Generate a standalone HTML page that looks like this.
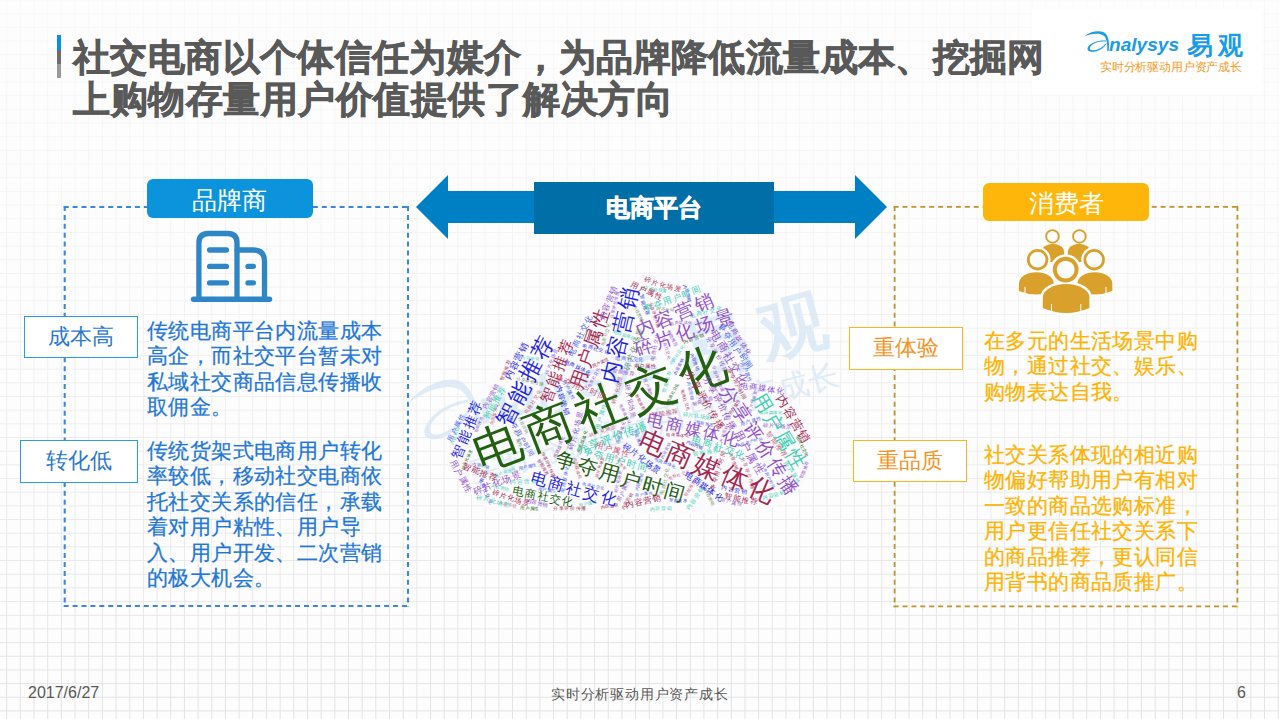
<!DOCTYPE html>
<html><head><meta charset="utf-8">
<style>
html,body{margin:0;padding:0;}
body{width:1279px;height:719px;overflow:hidden;position:relative;font-family:"Liberation Sans",sans-serif;background:#fdfdfd;}
.grid{position:absolute;left:0;top:0;width:1279px;height:719px;
background-image:linear-gradient(to right,#e0e0e0 1.2px,transparent 1.2px),linear-gradient(to bottom,#e0e0e0 1.2px,transparent 1.2px);
background-size:13.68px 13.68px;background-position:6.2px 13.2px;}
.fade{position:absolute;left:0;top:0;width:1279px;height:719px;background:linear-gradient(to bottom,rgba(253,253,253,0.85) 0%,rgba(253,253,253,0.68) 30%,rgba(253,253,253,0.5) 55%,rgba(253,253,253,0.1) 100%);}
.abs{position:absolute;white-space:nowrap;}
.title{font-weight:bold;color:#595959;-webkit-text-stroke:0.7px #595959;font-size:37px;letter-spacing:0.5px;line-height:40.7px;}
.bar{position:absolute;left:57px;width:4px;}
.hdr{position:absolute;border-radius:6px;color:#fff;font-size:25px;text-align:center;}
.lab{position:absolute;box-sizing:border-box;border:1.6px solid;background:#fff;font-size:22px;text-align:center;}
.p{position:absolute;font-size:21px;line-height:25.4px;letter-spacing:0.4px;-webkit-text-stroke:0.25px currentColor;white-space:nowrap;}
.foot{position:absolute;font-size:14px;color:#595959;top:684px;}
</style></head><body>
<div class="grid"></div>
<div class="fade"></div>

<div style="position:absolute;left:1032px;top:9px;width:230px;height:85px;background:#fff;"></div>
<!-- title accent bar -->
<div class="bar" style="top:35px;height:15px;background:#0b8fe0"></div>
<div class="bar" style="top:50px;height:14px;background:#6d6d6d"></div>
<div class="bar" style="top:64px;height:14px;background:#9a9a9a"></div>

<div class="abs title" style="left:73px;top:37.5px;letter-spacing:0.38px;">社交电商以个体信任为媒介，为品牌降低流量成本、挖掘网</div>
<div class="abs title" style="left:73px;top:79.5px;">上购物存量用户价值提供了解决方向</div>

<!-- logo -->
<svg style="position:absolute;left:0;top:0" width="1279" height="719">
<g fill="#1a9be6">
<path d="M1084.3 36.4 C 1090 31.5, 1101 29.5, 1105.5 33.5 C 1109 37, 1109.5 44, 1108.6 51 L 1107.2 51 C 1107.6 45, 1107 38.5, 1104 35.8 C 1099.5 32.5, 1091 33.5, 1084.3 36.4 Z"/>
<path d="M1106.2 40.6 C 1100 39.6, 1091 42, 1088 47 C 1086.3 50.2, 1089 52.3, 1094 51.8 C 1099 51.2, 1104.5 47.5, 1106.8 43.2 L 1105.6 43.6 C 1103 47, 1098.5 49.8, 1094.5 50.2 C 1090.5 50.6, 1089 49.2, 1090 47.2 C 1092.5 42.8, 1100 40.9, 1106.2 41.6 Z"/>
<text x="1109" y="51" font-family="Liberation Sans, sans-serif" font-style="italic" font-weight="bold" font-size="17.5" textLength="70" lengthAdjust="spacingAndGlyphs">nalysys</text>
<text x="1187" y="53.5" font-family="Liberation Sans, sans-serif" font-weight="bold" font-size="24.5" textLength="26" lengthAdjust="spacingAndGlyphs">易</text><text x="1217.5" y="53.5" font-family="Liberation Sans, sans-serif" font-weight="bold" font-size="24.5" textLength="25" lengthAdjust="spacingAndGlyphs">观</text>
</g>
<text x="1100" y="70.5" font-family="Liberation Serif, serif" font-size="11.5" fill="#f39a1e" textLength="142" lengthAdjust="spacing">实时分析驱动用户资产成长</text>
</svg>

<!-- building icon -->
<svg style="position:absolute;left:0;top:0" width="1279" height="719">
<g fill="none" stroke="#2e86c6" stroke-width="5.3" stroke-linecap="round" stroke-linejoin="round">
<path d="M198.9 299 L198.9 243 Q198.9 233.5 208.5 233.5 L227.5 233.5 Q237 233.5 237 243 L237 299"/>
<path d="M237 250 L253 250 Q264.5 250 264.5 261.5 L264.5 299"/>
<line x1="193.6" y1="299.3" x2="269.5" y2="299.3" stroke-width="5.5"/>
<line x1="209.6" y1="250" x2="226.4" y2="250"/>
<line x1="209.6" y1="266.4" x2="226.4" y2="266.4"/>
<line x1="209.6" y1="282.9" x2="226.4" y2="282.9"/>
<line x1="248" y1="266.4" x2="253.4" y2="266.4"/>
<line x1="248" y1="282.9" x2="253.4" y2="282.9"/>
</g>
</svg>
<!-- people icon -->
<svg style="position:absolute;left:0;top:0" width="1279" height="719">
<defs>
<path id="bodyS" d="M-11.5 14 L-11.5 7 C-11.5 2.5 -6 0 0 0 C 6 0 11.5 2.5 11.5 7 L11.5 14 Z"/>
</defs>
<g fill="#d9a12b">
<!-- back small people -->
<circle cx="1052.5" cy="236.4" r="6.3" fill="none" stroke="#d9a12b" stroke-width="1.9"/>
<circle cx="1079.4" cy="236.4" r="6.3" fill="none" stroke="#d9a12b" stroke-width="1.9"/>
<path d="M1041.5 262 L1041.5 252.5 A11.35 8.7 0 0 1 1064.2 252.5 L1064.2 262 Z"/>
<path d="M1067.8 262 L1067.8 252.5 A11.35 8.7 0 0 1 1090.5 252.5 L1090.5 262 Z"/>
<!-- middle people: white outline -->
<g fill="#fdfdfd" stroke="#fdfdfd" stroke-width="4.5">
<circle cx="1037.6" cy="259.7" r="10.7"/>
<circle cx="1094.2" cy="259.7" r="10.7"/>
<path d="M1018.9 291 L1018.9 283.5 A17.45 11.3 0 0 1 1053.8 283.5 L1053.8 291 Q1036.3 298 1018.9 291 Z"/>
<path d="M1077.4 291 L1077.4 283.5 A17.45 11.3 0 0 1 1112.3 283.5 L1112.3 291 Q1094.8 298 1077.4 291 Z"/>
</g>
<circle cx="1037.6" cy="259.7" r="9.3" fill="#fdfdfd" stroke="#d9a12b" stroke-width="2.8"/>
<circle cx="1094.2" cy="259.7" r="9.3" fill="#fdfdfd" stroke="#d9a12b" stroke-width="2.8"/>
<path d="M1018.9 291 L1018.9 283.5 A17.45 11.3 0 0 1 1053.8 283.5 L1053.8 291 Q1036.3 298 1018.9 291 Z"/>
<path d="M1077.4 291 L1077.4 283.5 A17.45 11.3 0 0 1 1112.3 283.5 L1112.3 291 Q1094.8 298 1077.4 291 Z"/>
<!-- central person: white outline -->
<g fill="#fdfdfd" stroke="#fdfdfd" stroke-width="5">
<circle cx="1065.7" cy="269.6" r="12.9"/>
<path d="M1042.8 308 L1042.8 297.5 A23.3 13.6 0 0 1 1089.4 297.5 L1089.4 308 Q1066.1 318 1042.8 308 Z"/>
</g>
<circle cx="1065.7" cy="269.6" r="10.9" fill="#fdfdfd" stroke="#d9a12b" stroke-width="4"/>
<path d="M1042.8 308 L1042.8 297.5 A23.3 13.6 0 0 1 1089.4 297.5 L1089.4 308 Q1066.1 318 1042.8 308 Z"/>
</g>
<g stroke="#fdfdfd" stroke-width="1">
<line x1="1051.5" y1="304" x2="1051.5" y2="314"/><line x1="1080.8" y1="304" x2="1080.8" y2="314"/>
<line x1="1025" y1="287" x2="1025" y2="296"/><line x1="1106" y1="287" x2="1106" y2="296"/>
</g>
</svg>

<!-- footer -->
<div class="foot" style="left:28px;top:683.5px;font-size:16px;">2017/6/27</div>
<div class="foot" style="left:551px;top:685.5px;letter-spacing:0.8px;">实时分析驱动用户资产成长</div>
<div class="foot" style="left:1237px;top:683.5px;font-size:16px;">6</div>

<!-- left dashed box -->
<svg style="position:absolute;left:0;top:0" width="1279" height="719" fill="none" stroke-width="2.1" stroke-dasharray="5 3.9">
<g stroke="#3f86d8"><path d="M63.7 207 L409 207"/><path d="M64.7 206 L64.7 607"/><path d="M408 206 L408 607"/><path d="M63.7 606 L409 606"/></g>
<g stroke="#c3912b" stroke-width="1.8"><path d="M893.6 206.9 L1238.4 206.9"/><path d="M894.6 205.9 L894.6 607.3"/><path d="M1237.4 205.9 L1237.4 607.3"/><path d="M893.6 606.3 L1238.4 606.3"/></g>
</svg>
<!-- right dashed box -->


<div class="hdr" style="left:146.6px;top:179.3px;width:166px;height:39px;line-height:42px;background:#0b94dc;">品牌商</div>
<div class="hdr" style="left:983.4px;top:182.9px;width:165.3px;height:38.6px;line-height:40px;background:#ffb60a;">消费者</div>

<div class="lab" style="left:24px;top:315.5px;width:114px;height:42px;line-height:39px;border-color:#2a9ce6;color:#2b78cc;">成本高</div>
<div class="lab" style="left:19.5px;top:440px;width:118px;height:42.5px;line-height:39.5px;border-color:#2a9ce6;color:#2b78cc;">转化低</div>
<div class="lab" style="left:849px;top:327.3px;width:113.5px;height:42.3px;line-height:39px;border-color:#ffb41e;color:#f59322;">重体验</div>
<div class="lab" style="left:852.8px;top:440.2px;width:113.8px;height:42px;line-height:39px;border-color:#ffb41e;color:#f59322;">重品质</div>

<div class="p" style="left:147px;top:318px;color:#2277d6;">传统电商平台内流量成本<br>高企，而社交平台暂未对<br>私域社交商品信息传播收<br>取佣金。</div>
<div class="p" style="left:147px;top:438px;color:#2277d6;">传统货架式电商用户转化<br>率较低，移动社交电商依<br>托社交关系的信任，承载<br>着对用户粘性、用户导<br>入、用户开发、二次营销<br>的极大机会。</div>
<div class="p" style="left:984px;top:328px;color:#ffb300;">在多元的生活场景中购<br>物，通过社交、娱乐、<br>购物表达自我。</div>
<div class="p" style="left:984px;top:442px;color:#ffb300;">社交关系体现的相近购<br>物偏好帮助用户有相对<br>一致的商品选购标准，<br>用户更信任社交关系下<br>的商品推荐，更认同信<br>用背书的商品质推广。</div>

<svg style="position:absolute;left:0;top:0" width="1279" height="719" font-family="Liberation Sans, sans-serif" text-anchor="middle" dominant-baseline="central">
<polygon points="503,512 486,506 468,490 456,474 448,457 447,440 452,420 460,406 470,398 481,392 492,378 503,360 514,348 526,339.5 540,334 556,335 570,339.5 576,334 584,320 598,299 612,289.5 628,281 648,276 667,275.6 688,279.7 709,288 723,300.6 730,310 735,321.7 743,338 748,355 750,373.5 758.5,383.5 773.5,390 788.5,396.8 800,406.8 807.6,430 813.5,441.8 811,465.5 802.8,483.3 791,496.3 776.8,504.4 755.5,509.5 700,512 600,512.5 520,512" fill="#fbfbfe" stroke="#fbfbfe" stroke-width="3" stroke-linejoin="round"/>
<g transform="translate(407 404) rotate(-14.8) scale(2.69) translate(-1084 -36.4)" opacity="0.7" text-anchor="start" dominant-baseline="auto"><g fill="#d3e6f5">
<path d="M1084.3 36.4 C 1090 31.5, 1101 29.5, 1105.5 33.5 C 1109 37, 1109.5 44, 1108.6 51 L 1107.2 51 C 1107.6 45, 1107 38.5, 1104 35.8 C 1099.5 32.5, 1091 33.5, 1084.3 36.4 Z"/>
<path d="M1106.2 40.6 C 1100 39.6, 1091 42, 1088 47 C 1086.3 50.2, 1089 52.3, 1094 51.8 C 1099 51.2, 1104.5 47.5, 1106.8 43.2 L 1105.6 43.6 C 1103 47, 1098.5 49.8, 1094.5 50.2 C 1090.5 50.6, 1089 49.2, 1090 47.2 C 1092.5 42.8, 1100 40.9, 1106.2 41.6 Z"/>
<text x="1109" y="51" font-family="Liberation Sans, sans-serif" font-style="italic" font-weight="bold" font-size="17.5" textLength="70" lengthAdjust="spacingAndGlyphs">nalysys</text>
<text x="1187" y="53.5" font-family="Liberation Sans, sans-serif" font-weight="bold" font-size="24.5" textLength="26" lengthAdjust="spacingAndGlyphs">易</text><text x="1217.5" y="53.5" font-family="Liberation Sans, sans-serif" font-weight="bold" font-size="24.5" textLength="25" lengthAdjust="spacingAndGlyphs">观</text>
</g>
<text x="1100" y="70.5" font-family="Liberation Serif, serif" font-size="11.5" fill="#d3e6f5" textLength="142" lengthAdjust="spacing">实时分析驱动用户资产成长</text>
</g>
<text transform="translate(639.3 482.4) rotate(-69.3) translate(0.30 0)" font-size="4.4" letter-spacing="0.60" fill="#4a60e6">内容营销</text>
<text transform="translate(664.9 412.4) rotate(-8.0) translate(0.42 0)" font-size="6.2" letter-spacing="0.84" fill="#c25a78">智能推荐</text>
<text transform="translate(600.0 362.5) rotate(-25.0) translate(0.30 0)" font-size="4.4" letter-spacing="0.60" fill="#a3284f">用户属性</text>
<text transform="translate(685.4 399.8) rotate(74.7) translate(0.27 0)" font-size="4.0" letter-spacing="0.54" fill="#a3284f">电商社交化</text>
<text transform="translate(630.6 401.0) rotate(79.2) translate(0.42 0)" font-size="6.2" letter-spacing="0.84" fill="#9150c8">碎片化场景</text>
<text transform="translate(548.3 464.5) rotate(63.3) translate(0.30 0)" font-size="4.4" letter-spacing="0.60" fill="#a3284f">分享评价传播</text>
<text transform="translate(693.7 339.1) rotate(-20.5) translate(0.33 0)" font-size="4.8" letter-spacing="0.66" fill="#23600f">内容营销</text>
<text transform="translate(718.2 470.0) rotate(-72.0) translate(0.39 0)" font-size="5.7" letter-spacing="0.78" fill="#a3284f">争夺用户时间</text>
<text transform="translate(602.5 431.1) rotate(-19.2) translate(0.33 0)" font-size="4.8" letter-spacing="0.66" fill="#c25a78">碎片化场景</text>
<text transform="translate(748.0 473.3) rotate(71.2) translate(0.33 0)" font-size="4.8" letter-spacing="0.66" fill="#c25a78">分享评价传播</text>
<text transform="translate(627.0 501.7) rotate(-60.2) translate(0.30 0)" font-size="4.4" letter-spacing="0.60" fill="#a3284f">内容营销</text>
<text transform="translate(637.9 438.2) rotate(74.5) translate(0.27 0)" font-size="4.0" letter-spacing="0.54" fill="#2222e0">智能推荐</text>
<text transform="translate(654.8 347.0) rotate(-79.5) translate(0.33 0)" font-size="4.8" letter-spacing="0.66" fill="#9150c8">电商社交化</text>
<text transform="translate(466.6 459.6) rotate(-67.6) translate(0.27 0)" font-size="4.0" letter-spacing="0.54" fill="#23600f">碎片化场景</text>
<text transform="translate(750.8 421.3) rotate(-17.5) translate(0.33 0)" font-size="4.8" letter-spacing="0.66" fill="#4a60e6">用户属性</text>
<text transform="translate(638.2 313.1) rotate(63.3) translate(0.30 0)" font-size="4.4" letter-spacing="0.60" fill="#6f8f6a">内容营销</text>
<text transform="translate(677.6 434.9) rotate(4.2) translate(0.27 0)" font-size="4.0" letter-spacing="0.54" fill="#a3284f">电商媒体化</text>
<text transform="translate(676.4 355.2) rotate(-57.8) translate(0.30 0)" font-size="4.4" letter-spacing="0.60" fill="#3ccfb0">电商社交化</text>
<text transform="translate(696.6 415.7) rotate(5.7) translate(0.36 0)" font-size="5.3" letter-spacing="0.72" fill="#3ccfb0">碎片化场景</text>
<text transform="translate(505.0 472.3) rotate(-20.8) translate(0.30 0)" font-size="4.4" letter-spacing="0.60" fill="#3ccfb0">碎片化场景</text>
<text transform="translate(694.9 498.3) rotate(-56.4) translate(0.39 0)" font-size="5.7" letter-spacing="0.78" fill="#3ccfb0">内容营销</text>
<text transform="translate(490.4 396.6) rotate(-61.3) translate(0.42 0)" font-size="6.2" letter-spacing="0.84" fill="#9150c8">内容营销</text>
<text transform="translate(559.1 447.2) rotate(-67.0) translate(0.30 0)" font-size="4.4" letter-spacing="0.60" fill="#9150c8">电商媒体化</text>
<text transform="translate(644.8 365.8) rotate(-0.8) translate(0.36 0)" font-size="5.3" letter-spacing="0.72" fill="#a3284f">用户属性</text>
<text transform="translate(777.3 425.5) rotate(3.0) translate(0.36 0)" font-size="5.3" letter-spacing="0.72" fill="#9150c8">碎片化场景</text>
<text transform="translate(575.2 430.8) rotate(-74.6) translate(0.48 0)" font-size="7.0" letter-spacing="0.96" fill="#9150c8">碎片化场景</text>
<text transform="translate(587.6 503.4) rotate(-11.1) translate(0.30 0)" font-size="4.4" letter-spacing="0.60" fill="#3ccfb0">用户属性</text>
<text transform="translate(623.9 334.9) rotate(18.9) translate(0.30 0)" font-size="4.4" letter-spacing="0.60" fill="#3ccfb0">电商媒体化</text>
<text transform="translate(672.6 393.0) rotate(-61.3) translate(0.27 0)" font-size="4.0" letter-spacing="0.54" fill="#23600f">电商社交化</text>
<text transform="translate(551.4 361.3) rotate(-69.6) translate(0.33 0)" font-size="4.8" letter-spacing="0.66" fill="#9150c8">碎片化场景</text>
<text transform="translate(678.9 474.8) rotate(-18.7) translate(0.27 0)" font-size="4.0" letter-spacing="0.54" fill="#c25a78">电商社交化</text>
<text transform="translate(616.7 390.4) rotate(-73.8) translate(0.36 0)" font-size="5.3" letter-spacing="0.72" fill="#c25a78">碎片化场景</text>
<text transform="translate(709.5 497.4) rotate(62.4) translate(0.30 0)" font-size="4.4" letter-spacing="0.60" fill="#6f8f6a">内容营销</text>
<text transform="translate(600.9 416.3) rotate(-73.9) translate(0.39 0)" font-size="5.7" letter-spacing="0.78" fill="#3ccfb0">用户属性</text>
<text transform="translate(565.2 479.1) rotate(-79.2) translate(0.33 0)" font-size="4.8" letter-spacing="0.66" fill="#4a60e6">电商媒体化</text>
<text transform="translate(533.1 401.9) rotate(-58.0) translate(0.33 0)" font-size="4.8" letter-spacing="0.66" fill="#c25a78">电商社交化</text>
<text transform="translate(505.9 370.4) rotate(-68.7) translate(0.33 0)" font-size="4.8" letter-spacing="0.66" fill="#a3284f">智能推荐</text>
<text transform="translate(777.0 444.2) rotate(55.1) translate(0.45 0)" font-size="6.6" letter-spacing="0.90" fill="#c25a78">智能推荐</text>
<text transform="translate(577.1 468.0) rotate(73.9) translate(0.30 0)" font-size="4.4" letter-spacing="0.60" fill="#c25a78">电商媒体化</text>
<text transform="translate(577.7 367.0) rotate(24.5) translate(0.36 0)" font-size="5.3" letter-spacing="0.72" fill="#2222e0">电商媒体化</text>
<text transform="translate(617.9 481.8) rotate(-77.2) translate(0.30 0)" font-size="4.4" letter-spacing="0.60" fill="#9150c8">碎片化场景</text>
<text transform="translate(562.7 399.9) rotate(72.1) translate(0.48 0)" font-size="7.0" letter-spacing="0.96" fill="#2222e0">内容营销</text>
<text transform="translate(523.4 481.5) rotate(-0.2) translate(0.39 0)" font-size="5.7" letter-spacing="0.78" fill="#3ccfb0">内容营销</text>
<text transform="translate(507.7 504.5) rotate(12.7) translate(0.27 0)" font-size="4.0" letter-spacing="0.54" fill="#c25a78">内容营销</text>
<text transform="translate(527.3 466.7) rotate(-9.1) translate(0.30 0)" font-size="4.4" letter-spacing="0.60" fill="#4a60e6">用户属性</text>
<text transform="translate(717.1 354.3) rotate(62.4) translate(0.39 0)" font-size="5.7" letter-spacing="0.78" fill="#9150c8">分享评价传播</text>
<text transform="translate(690.7 390.5) rotate(77.7) translate(0.30 0)" font-size="4.4" letter-spacing="0.60" fill="#4a60e6">内容营销</text>
<text transform="translate(705.8 311.9) rotate(-13.8) translate(0.39 0)" font-size="5.7" letter-spacing="0.78" fill="#3ccfb0">电商社交化</text>
<text transform="translate(666.7 348.5) rotate(72.4) translate(0.27 0)" font-size="4.0" letter-spacing="0.54" fill="#9150c8">电商社交化</text>
<text transform="translate(666.6 381.6) rotate(-74.6) translate(0.33 0)" font-size="4.8" letter-spacing="0.66" fill="#3ccfb0">智能推荐</text>
<text transform="translate(485.6 491.0) rotate(68.0) translate(0.33 0)" font-size="4.8" letter-spacing="0.66" fill="#2222e0">电商社交化</text>
<text transform="translate(694.4 445.0) rotate(22.7) translate(0.30 0)" font-size="4.4" letter-spacing="0.60" fill="#2222e0">内容营销</text>
<text transform="translate(478.9 424.7) rotate(-65.5) translate(0.27 0)" font-size="4.0" letter-spacing="0.54" fill="#9150c8">智能推荐</text>
<text transform="translate(687.1 293.2) rotate(74.8) translate(0.30 0)" font-size="4.4" letter-spacing="0.60" fill="#2222e0">内容营销</text>
<text transform="translate(517.5 437.9) rotate(69.4) translate(0.30 0)" font-size="4.4" letter-spacing="0.60" fill="#6f8f6a">用户属性</text>
<text transform="translate(768.4 476.0) rotate(65.8) translate(0.27 0)" font-size="4.0" letter-spacing="0.54" fill="#4a60e6">争夺用户时间</text>
<text transform="translate(644.2 305.2) rotate(72.9) translate(0.33 0)" font-size="4.8" letter-spacing="0.66" fill="#2222e0">智能推荐</text>
<text transform="translate(736.9 384.1) rotate(61.0) translate(0.36 0)" font-size="5.3" letter-spacing="0.72" fill="#a3284f">争夺用户时间</text>
<text transform="translate(537.1 502.8) rotate(15.6) translate(0.36 0)" font-size="5.3" letter-spacing="0.72" fill="#9150c8">内容营销</text>
<text transform="translate(599.4 466.9) rotate(-73.5) translate(0.27 0)" font-size="4.0" letter-spacing="0.54" fill="#a3284f">碎片化场景</text>
<text transform="translate(605.5 334.9) rotate(-72.4) translate(0.30 0)" font-size="4.4" letter-spacing="0.60" fill="#6f8f6a">电商社交化</text>
<text transform="translate(681.3 322.6) rotate(-3.0) translate(0.27 0)" font-size="4.0" letter-spacing="0.54" fill="#9150c8">电商媒体化</text>
<text transform="translate(593.4 377.9) rotate(-63.2) translate(0.27 0)" font-size="4.0" letter-spacing="0.54" fill="#9150c8">电商社交化</text>
<text transform="translate(734.5 490.0) rotate(11.6) translate(0.39 0)" font-size="5.7" letter-spacing="0.78" fill="#2222e0">内容营销</text>
<text transform="translate(752.4 401.8) rotate(-73.6) translate(0.27 0)" font-size="4.0" letter-spacing="0.54" fill="#9150c8">碎片化场景</text>
<text transform="translate(625.3 414.1) rotate(62.6) translate(0.27 0)" font-size="4.0" letter-spacing="0.54" fill="#9150c8">电商媒体化</text>
<text transform="translate(614.6 305.2) rotate(-75.6) translate(0.30 0)" font-size="4.4" letter-spacing="0.60" fill="#9150c8">分享评价传播</text>
<text transform="translate(622.9 490.8) rotate(-66.7) translate(0.36 0)" font-size="5.3" letter-spacing="0.72" fill="#9150c8">用户属性</text>
<text transform="translate(529.8 381.4) rotate(11.4) translate(0.30 0)" font-size="4.4" letter-spacing="0.60" fill="#6f8f6a">分享评价传播</text>
<text transform="translate(522.9 425.2) rotate(64.8) translate(0.27 0)" font-size="4.0" letter-spacing="0.54" fill="#6f8f6a">内容营销</text>
<text transform="translate(660.7 508.6) rotate(-2.6) translate(0.33 0)" font-size="4.8" letter-spacing="0.66" fill="#3ccfb0">内容营销</text>
<text transform="translate(664.9 480.9) rotate(-77.3) translate(0.33 0)" font-size="4.8" letter-spacing="0.66" fill="#6f8f6a">电商社交化</text>
<text transform="translate(678.3 500.5) rotate(4.3) translate(0.27 0)" font-size="4.0" letter-spacing="0.54" fill="#2222e0">智能推荐</text>
<text transform="translate(723.7 433.9) rotate(-69.9) translate(0.27 0)" font-size="4.0" letter-spacing="0.54" fill="#9150c8">内容营销</text>
<text transform="translate(702.6 401.1) rotate(-18.2) translate(0.33 0)" font-size="4.8" letter-spacing="0.66" fill="#9150c8">智能推荐</text>
<text transform="translate(792.1 472.9) rotate(56.6) translate(0.39 0)" font-size="5.7" letter-spacing="0.78" fill="#3ccfb0">用户属性</text>
<text transform="translate(802.4 445.8) rotate(65.1) translate(0.30 0)" font-size="4.4" letter-spacing="0.60" fill="#23600f">电商社交化</text>
<text transform="translate(653.1 289.2) rotate(9.2) translate(0.30 0)" font-size="4.4" letter-spacing="0.60" fill="#3ccfb0">分享评价传播</text>
<text transform="translate(481.0 465.1) rotate(11.6) translate(0.27 0)" font-size="4.0" letter-spacing="0.54" fill="#4a60e6">内容营销</text>
<text transform="translate(593.6 485.9) rotate(11.0) translate(0.27 0)" font-size="4.0" letter-spacing="0.54" fill="#4a60e6">电商社交化</text>
<text transform="translate(731.2 502.1) rotate(13.3) translate(0.33 0)" font-size="4.8" letter-spacing="0.66" fill="#9150c8">用户属性</text>
<text transform="translate(569.8 508.4) rotate(-0.2) translate(0.33 0)" font-size="4.8" letter-spacing="0.66" fill="#a3284f">分享评价传播</text>
<text transform="translate(654.4 314.9) rotate(71.7) translate(0.30 0)" font-size="4.4" letter-spacing="0.60" fill="#a3284f">分享评价传播</text>
<text transform="translate(665.1 462.7) rotate(22.4) translate(0.30 0)" font-size="4.4" letter-spacing="0.60" fill="#4a60e6">电商媒体化</text>
<text transform="translate(542.9 466.7) rotate(61.7) translate(0.30 0)" font-size="4.4" letter-spacing="0.60" fill="#a3284f">智能推荐</text>
<text transform="translate(678.8 366.5) rotate(-62.4) translate(0.27 0)" font-size="4.0" letter-spacing="0.54" fill="#2222e0">内容营销</text>
<text transform="translate(568.3 390.3) rotate(62.8) translate(0.33 0)" font-size="4.8" letter-spacing="0.66" fill="#4a60e6">用户属性</text>
<text transform="translate(530.1 358.3) rotate(5.8) translate(0.27 0)" font-size="4.0" letter-spacing="0.54" fill="#3ccfb0">内容营销</text>
<text transform="translate(500.0 487.6) rotate(15.5) translate(0.30 0)" font-size="4.4" letter-spacing="0.60" fill="#3ccfb0">内容营销</text>
<text transform="translate(773.5 495.1) rotate(-15.3) translate(0.36 0)" font-size="5.3" letter-spacing="0.72" fill="#3ccfb0">内容营销</text>
<text transform="translate(582.3 441.8) rotate(-72.8) translate(0.30 0)" font-size="4.4" letter-spacing="0.60" fill="#23600f">电商媒体化</text>
<text transform="translate(749.4 442.1) rotate(-15.7) translate(0.27 0)" font-size="4.0" letter-spacing="0.54" fill="#4a60e6">争夺用户时间</text>
<text transform="translate(620.4 432.9) rotate(-73.5) translate(0.30 0)" font-size="4.4" letter-spacing="0.60" fill="#9150c8">电商媒体化</text>
<text transform="translate(546.5 490.0) rotate(2.4) translate(0.30 0)" font-size="4.4" letter-spacing="0.60" fill="#4a60e6">用户属性</text>
<text transform="translate(665.0 309.1) rotate(6.8) translate(0.27 0)" font-size="4.0" letter-spacing="0.54" fill="#6f8f6a">内容营销</text>
<text transform="translate(494.2 414.3) rotate(-73.8) translate(0.30 0)" font-size="4.4" letter-spacing="0.60" fill="#c25a78">电商媒体化</text>
<text transform="translate(705.9 452.5) rotate(-8.6) translate(0.39 0)" font-size="5.7" letter-spacing="0.78" fill="#3ccfb0">智能推荐</text>
<text transform="translate(595.8 348.9) rotate(14.2) translate(0.33 0)" font-size="4.8" letter-spacing="0.66" fill="#2222e0">电商社交化</text>
<text transform="translate(733.5 460.8) rotate(70.7) translate(0.30 0)" font-size="4.4" letter-spacing="0.60" fill="#a3284f">内容营销</text>
<text transform="translate(734.4 407.1) rotate(-57.8) translate(0.30 0)" font-size="4.4" letter-spacing="0.60" fill="#a3284f">用户属性</text>
<text transform="translate(609.2 506.3) rotate(-8.8) translate(0.30 0)" font-size="4.4" letter-spacing="0.60" fill="#a3284f">内容营销</text>
<text transform="translate(623.3 372.2) rotate(9.6) translate(0.36 0)" font-size="5.3" letter-spacing="0.72" fill="#9150c8">智能推荐</text>
<text transform="translate(629.4 358.7) rotate(2.3) translate(0.36 0)" font-size="5.3" letter-spacing="0.72" fill="#4a60e6">电商社交化</text>
<text transform="translate(694.5 361.4) rotate(70.3) translate(0.30 0)" font-size="4.4" letter-spacing="0.60" fill="#2222e0">内容营销</text>
<text transform="translate(643.6 493.9) rotate(-7.5) translate(0.27 0)" font-size="4.0" letter-spacing="0.54" fill="#4a60e6">用户属性</text>
<text transform="translate(672.1 338.2) rotate(63.5) translate(0.30 0)" font-size="4.4" letter-spacing="0.60" fill="#9150c8">智能推荐</text>
<text transform="translate(640.0 401.7) rotate(62.7) translate(0.27 0)" font-size="4.0" letter-spacing="0.54" fill="#a3284f">智能推荐</text>
<text transform="translate(770.6 412.7) rotate(0.3) translate(0.30 0)" font-size="4.4" letter-spacing="0.60" fill="#3ccfb0">电商媒体化</text>
<text transform="translate(704.8 423.6) rotate(12.2) translate(0.27 0)" font-size="4.0" letter-spacing="0.54" fill="#4a60e6">智能推荐</text>
<text transform="translate(689.6 488.2) rotate(-57.4) translate(0.30 0)" font-size="4.4" letter-spacing="0.60" fill="#c25a78">智能推荐</text>
<text transform="translate(620.5 462.5) rotate(55.3) translate(0.27 0)" font-size="4.0" letter-spacing="0.54" fill="#c25a78">智能推荐</text>
<text transform="translate(804.1 470.0) rotate(-67.2) translate(0.30 0)" font-size="4.4" letter-spacing="0.60" fill="#9150c8">智能推荐</text>
<text transform="translate(529.4 508.3) rotate(3.7) translate(0.30 0)" font-size="4.4" letter-spacing="0.60" fill="#23600f">用户属性</text>
<text transform="translate(746.1 371.9) rotate(65.2) translate(0.33 0)" font-size="4.8" letter-spacing="0.66" fill="#4a60e6">用户属性</text>
<text transform="translate(647.8 387.0) rotate(67.1) translate(0.30 0)" font-size="4.4" letter-spacing="0.60" fill="#9150c8">用户属性</text>
<text transform="translate(717.9 378.4) rotate(69.2) translate(0.30 0)" font-size="4.4" letter-spacing="0.60" fill="#9150c8">分享评价传播</text>
<text transform="translate(455.0 436.0) rotate(-66.4) translate(0.30 0)" font-size="4.4" letter-spacing="0.60" fill="#3ccfb0">内容营销</text>
<text transform="translate(665.7 450.5) rotate(-62.6) translate(0.27 0)" font-size="4.0" letter-spacing="0.54" fill="#4a60e6">内容营销</text>
<text transform="translate(599.0 407.3) rotate(-21.0) translate(3.30 0)" font-size="48.4" letter-spacing="6.60" fill="#23600f">电商社交化</text>
<text transform="translate(706.8 466.6) rotate(23.2) translate(1.80 0)" font-size="26.4" letter-spacing="3.60" fill="#a3284f">电商媒体化</text>
<text transform="translate(620.0 476.5) rotate(15.8) translate(1.38 0)" font-size="20.2" letter-spacing="2.76" fill="#23600f">争夺用户时间</text>
<text transform="translate(619.9 334.7) rotate(-76.8) translate(1.50 0)" font-size="22.0" letter-spacing="3.00" fill="#2222e0">内容营销</text>
<text transform="translate(589.7 348.0) rotate(-70.4) translate(1.26 0)" font-size="18.5" letter-spacing="2.52" fill="#a3284f">用户属性</text>
<text transform="translate(524.9 381.2) rotate(-62.4) translate(1.50 0)" font-size="22.0" letter-spacing="3.00" fill="#2222e0">智能推荐</text>
<text transform="translate(556.6 371.1) rotate(-69.0) translate(1.02 0)" font-size="15.0" letter-spacing="2.04" fill="#a3284f">智能推荐</text>
<text transform="translate(684.5 332.2) rotate(-19.4) translate(1.26 0)" font-size="18.5" letter-spacing="2.52" fill="#9150c8">碎片化场景</text>
<text transform="translate(674.4 314.9) rotate(-23.4) translate(1.26 0)" font-size="18.5" letter-spacing="2.52" fill="#9150c8">内容营销</text>
<text transform="translate(759.5 440.0) rotate(56.8) translate(1.26 0)" font-size="18.5" letter-spacing="2.52" fill="#9150c8">分享评价传播</text>
<text transform="translate(779.5 430.6) rotate(59.2) translate(1.32 0)" font-size="19.4" letter-spacing="2.64" fill="#3ccfb0">用户属性</text>
<text transform="translate(693.2 429.6) rotate(13.0) translate(1.14 0)" font-size="16.7" letter-spacing="2.28" fill="#9150c8">电商媒体化</text>
<text transform="translate(574.0 488.5) rotate(15.6) translate(1.08 0)" font-size="15.8" letter-spacing="2.16" fill="#2222e0">电商社交化</text>
<text transform="translate(467.0 429.5) rotate(-68.0) translate(0.93 0)" font-size="13.6" letter-spacing="1.86" fill="#2222e0">智能推荐</text>
<text transform="translate(497.0 483.0) rotate(-22.0) translate(0.63 0)" font-size="9.2" letter-spacing="1.26" fill="#9150c8">碎片化场景</text>
<text transform="translate(542.8 496.4) rotate(11.0) translate(0.78 0)" font-size="11.4" letter-spacing="1.56" fill="#23600f">电商社交化</text>
<text transform="translate(793.2 418.8) rotate(58.5) translate(0.84 0)" font-size="12.3" letter-spacing="1.68" fill="#a3284f">内容营销</text>
<text transform="translate(729.3 357.2) rotate(59.0) translate(0.75 0)" font-size="11.0" letter-spacing="1.50" fill="#9150c8">电商社交化</text>
<text transform="translate(494.5 403.4) rotate(-60.0) translate(0.57 0)" font-size="8.4" letter-spacing="1.14" fill="#3ccfb0">智能推荐</text>
<text transform="translate(516.5 361.0) rotate(-62.0) translate(0.63 0)" font-size="9.2" letter-spacing="1.26" fill="#2222e0">内容营销</text>
<text transform="translate(611.6 438.0) rotate(-20.0) translate(0.78 0)" font-size="11.4" letter-spacing="1.56" fill="#3ccfb0">分享评价传播</text>
<text transform="translate(641.6 458.0) rotate(38.0) translate(0.57 0)" font-size="8.4" letter-spacing="1.14" fill="#2222e0">碎片化场景</text>
<text transform="translate(704.0 486.0) rotate(35.0) translate(0.57 0)" font-size="8.4" letter-spacing="1.14" fill="#2222e0">电商媒体化</text>
<text transform="translate(643.0 501.5) rotate(-12.0) translate(0.57 0)" font-size="8.4" letter-spacing="1.14" fill="#a3284f">内容营销</text>
<text transform="translate(672.0 299.0) rotate(-20.5) translate(0.60 0)" font-size="8.8" letter-spacing="1.20" fill="#3ccfb0">争夺用户时间</text>
<text transform="translate(646.5 291.0) rotate(26.0) translate(0.53 0)" font-size="7.7" letter-spacing="1.06" fill="#a3284f">用户属性</text>
<text transform="translate(663.0 284.5) rotate(17.0) translate(0.45 0)" font-size="6.6" letter-spacing="0.90" fill="#a3284f">碎片化场景</text>
<text transform="translate(718.6 447.0) rotate(18.0) translate(0.66 0)" font-size="9.7" letter-spacing="1.32" fill="#3ccfb0">电商社交化</text>
<text transform="translate(749.4 452.3) rotate(60.0) translate(0.72 0)" font-size="10.6" letter-spacing="1.44" fill="#9150c8">用户属性</text>
<text transform="translate(741.5 499.0) rotate(12.0) translate(0.51 0)" font-size="7.5" letter-spacing="1.02" fill="#a3284f">智能推荐</text>
<text transform="translate(615.6 459.2) rotate(15.0) translate(0.66 0)" font-size="9.7" letter-spacing="1.32" fill="#3ccfb0">争夺用户时间</text>
<text transform="translate(612.4 449.6) rotate(15.0) translate(0.54 0)" font-size="7.9" letter-spacing="1.08" fill="#c25a78">用户属性</text>
<text transform="translate(735.1 346.7) rotate(55.0) translate(0.54 0)" font-size="7.9" letter-spacing="1.08" fill="#4a60e6">争夺用户时间</text>
<text transform="translate(762.6 388.5) rotate(8.0) translate(0.54 0)" font-size="7.9" letter-spacing="1.08" fill="#9150c8">电商媒体化</text>
<text transform="translate(461.0 475.6) rotate(60.0) translate(0.57 0)" font-size="8.4" letter-spacing="1.14" fill="#9150c8">用户属性</text>
<text transform="translate(480.0 471.6) rotate(22.0) translate(0.57 0)" font-size="8.4" letter-spacing="1.14" fill="#a3284f">智能推荐</text>
<text transform="translate(511.0 498.0) rotate(18.0) translate(0.48 0)" font-size="7.0" letter-spacing="0.96" fill="#a3284f">碎片化场景</text>
<text transform="translate(493.0 501.0) rotate(15.0) translate(0.39 0)" font-size="5.7" letter-spacing="0.78" fill="#3ccfb0">碎片化场景</text>
<text transform="translate(456.0 427.0) rotate(-62.0) translate(0.45 0)" font-size="6.6" letter-spacing="0.90" fill="#4a60e6">用户属性</text>
<text transform="translate(521.0 436.0) rotate(60.0) translate(0.45 0)" font-size="6.6" letter-spacing="0.90" fill="#4a60e6">争夺用户时间</text>
<text transform="translate(634.0 349.3) rotate(-70.0) translate(0.54 0)" font-size="7.9" letter-spacing="1.08" fill="#6f8f6a">碎片化场景</text>
<text transform="translate(580.4 335.4) rotate(-65.0) translate(0.54 0)" font-size="7.9" letter-spacing="1.08" fill="#4a60e6">电商社交化</text>
<text transform="translate(608.3 302.7) rotate(-68.0) translate(0.54 0)" font-size="7.9" letter-spacing="1.08" fill="#9150c8">内容营销</text>
<text transform="translate(580.6 387.5) rotate(22.0) translate(0.54 0)" font-size="7.9" letter-spacing="1.08" fill="#c25a78">争夺用户时间</text>
<text transform="translate(705.0 400.0) rotate(60.0) translate(0.66 0)" font-size="9.7" letter-spacing="1.32" fill="#a3284f">分享评价传播</text>
<text transform="translate(720.0 403.5) rotate(62.0) translate(0.60 0)" font-size="8.8" letter-spacing="1.20" fill="#9150c8">分享评价传播</text>
<text transform="translate(739.3 338.4) rotate(58.0) translate(0.48 0)" font-size="7.0" letter-spacing="0.96" fill="#9150c8">电商媒体化</text>
</svg>
<!-- arrow -->
<svg style="position:absolute;left:0;top:0" width="1279" height="719">
<polygon points="416,207 448,175 448,191 855,191 855,175 887,207 855,239 855,223 448,223 448,239" fill="#0080c4"/>
<rect x="534" y="182" width="240" height="52" fill="#006fa8"/>
</svg>
<div class="abs" style="left:534px;top:182px;width:240px;height:52px;line-height:52px;text-align:center;color:#fff;font-weight:bold;font-size:24px;-webkit-text-stroke:0.7px #fff;">电商平台</div>

</body></html>
